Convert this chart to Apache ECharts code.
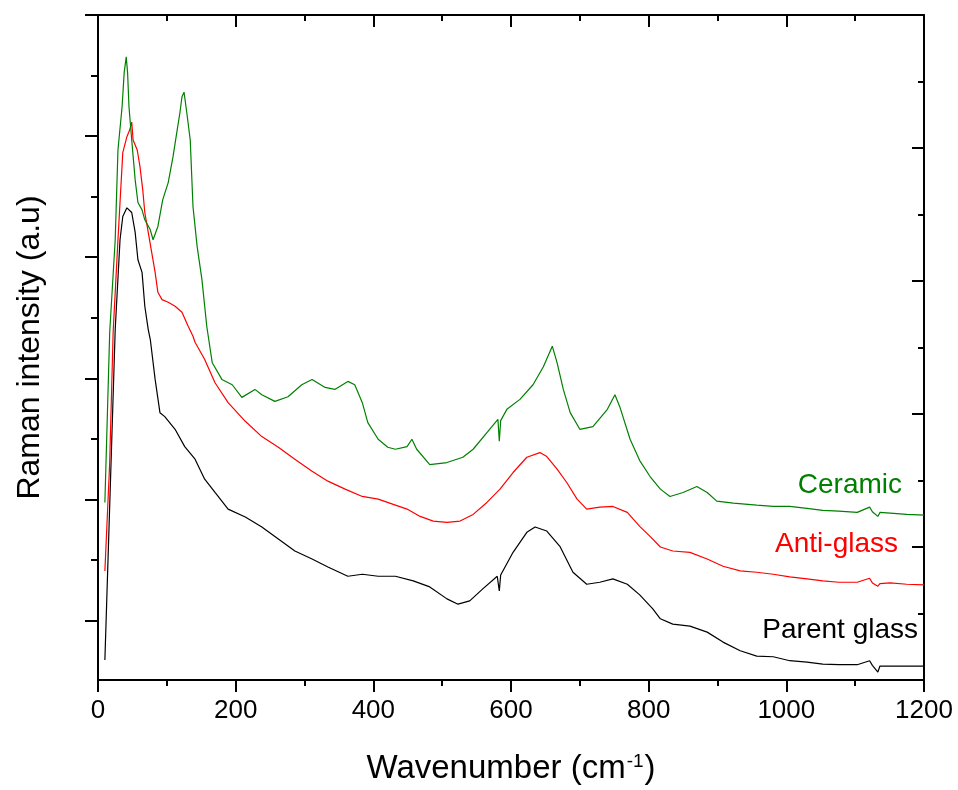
<!DOCTYPE html>
<html>
<head>
<meta charset="utf-8">
<title>Raman spectra</title>
<script src="https://cdn.jsdelivr.net/npm/echarts@6/dist/echarts.min.js"></script>
<style>
  html, body { margin: 0; padding: 0; background: #fff; }
  #chart { width: 958px; height: 790px; }
</style>
</head>
<body>
<div id="chart"></div>
<script>
// wavenumber (cm-1), intensity (a.u.)
const parentGlass = [
  [10, 0.30], [25, 5.27], [32, 6.62], [36, 6.97], [42, 7.10], [49, 7.03], [54, 6.73],
  [58, 6.32], [64, 6.13], [68, 5.62], [73, 5.27], [76, 5.12], [83, 4.52], [90, 4.02],
  [97, 3.96], [112, 3.77], [126, 3.51], [141, 3.32], [155, 3.02], [170, 2.82], [189, 2.57],
  [214, 2.45], [238, 2.30], [262, 2.12], [286, 1.94], [311, 1.82], [334, 1.70], [363, 1.56],
  [384, 1.59], [407, 1.56], [432, 1.56], [458, 1.49], [482, 1.40], [507, 1.22], [523, 1.14],
  [540, 1.19], [559, 1.37], [580, 1.56], [583, 1.34], [585, 1.58], [603, 1.92], [623, 2.22],
  [635, 2.30], [652, 2.24], [671, 2.01], [690, 1.62], [710, 1.44], [729, 1.47], [748, 1.52],
  [769, 1.44], [787, 1.28], [806, 1.07], [817, 0.92], [835, 0.84], [860, 0.81], [885, 0.72],
  [908, 0.57], [933, 0.44], [957, 0.36], [981, 0.35], [1005, 0.29], [1030, 0.27], [1053, 0.24],
  [1076, 0.23], [1103, 0.23], [1121, 0.29], [1125, 0.22], [1133, 0.12], [1136, 0.21],
  [1151, 0.21], [1175, 0.21], [1200, 0.21]
];

const antiGlass = [
  [10, 1.64], [17, 3.27], [22, 5.23], [29, 6.62], [36, 7.93], [42, 8.17], [46, 8.27],
  [49, 8.39], [51, 8.12], [57, 7.97], [61, 7.72], [65, 7.37], [68, 7.03], [73, 6.73],
  [78, 6.43], [83, 6.13], [87, 5.83], [93, 5.72], [102, 5.68], [112, 5.62], [122, 5.53],
  [131, 5.32], [138, 5.17], [141, 5.08], [155, 4.82], [170, 4.47], [189, 4.17], [214, 3.89],
  [238, 3.66], [262, 3.50], [286, 3.32], [311, 3.14], [334, 2.99], [359, 2.87], [384, 2.76],
  [407, 2.72], [429, 2.64], [449, 2.57], [468, 2.46], [487, 2.39], [507, 2.37], [526, 2.39],
  [545, 2.49], [565, 2.67], [584, 2.87], [603, 3.12], [623, 3.35], [642, 3.42], [652, 3.36],
  [667, 3.17], [681, 2.97], [696, 2.72], [710, 2.57], [729, 2.60], [748, 2.61], [769, 2.52],
  [787, 2.31], [802, 2.16], [817, 2.00], [835, 1.94], [860, 1.92], [885, 1.82], [908, 1.71],
  [933, 1.64], [957, 1.62], [981, 1.59], [1005, 1.55], [1030, 1.52], [1053, 1.49], [1076, 1.47],
  [1103, 1.47], [1121, 1.53], [1125, 1.46], [1133, 1.41], [1136, 1.45], [1151, 1.46],
  [1175, 1.44], [1200, 1.43]
];

const ceramic = [
  [10, 2.67], [17, 5.23], [25, 6.62], [29, 7.97], [35, 8.62], [38, 9.13], [41, 9.37],
  [43, 9.13], [45, 8.62], [49, 8.12], [54, 7.52], [58, 7.18], [64, 7.07], [68, 6.92],
  [76, 6.77], [80, 6.62], [87, 6.82], [94, 7.22], [102, 7.48], [109, 7.87], [115, 8.27],
  [119, 8.53], [122, 8.77], [125, 8.84], [129, 8.53], [134, 8.12], [138, 7.12], [144, 6.52],
  [151, 6.02], [158, 5.32], [166, 4.77], [180, 4.52], [195, 4.44], [209, 4.25], [228, 4.37],
  [238, 4.29], [257, 4.19], [276, 4.26], [296, 4.44], [311, 4.52], [330, 4.40], [344, 4.37],
  [363, 4.49], [373, 4.44], [384, 4.17], [392, 3.87], [407, 3.62], [421, 3.50], [432, 3.47],
  [449, 3.51], [456, 3.62], [463, 3.47], [482, 3.24], [507, 3.27], [530, 3.35], [545, 3.47],
  [565, 3.72], [581, 3.92], [583, 3.59], [585, 3.90], [594, 4.07], [613, 4.22], [632, 4.44],
  [647, 4.71], [660, 5.02], [667, 4.77], [676, 4.37], [686, 4.02], [700, 3.77], [719, 3.81],
  [740, 4.07], [751, 4.29], [758, 4.11], [773, 3.62], [787, 3.30], [802, 3.06], [817, 2.87],
  [831, 2.76], [850, 2.82], [870, 2.91], [885, 2.82], [899, 2.69], [923, 2.66], [957, 2.63],
  [981, 2.61], [1005, 2.61], [1030, 2.58], [1053, 2.55], [1076, 2.54], [1103, 2.52],
  [1121, 2.60], [1125, 2.53], [1133, 2.46], [1136, 2.52], [1151, 2.51], [1175, 2.49],
  [1200, 2.48]
];

const seriesNames = ['Parent glass', 'Anti-glass', 'Ceramic'];
const seriesColors = ['#000000', '#ff0000', '#008000'];
const xTicks = [0, 1200, 200];  // min, max, interval

const FONT = "'Liberation Sans', Arial, sans-serif";
const chart = echarts.init(document.getElementById('chart'), null, { renderer: 'canvas' });

const tickStyle = { color: '#000', width: 2 };

function line(name, data, color) {
  return {
    name: name,
    type: 'line',
    data: data,
    xAxisIndex: 0,
    yAxisIndex: 0,
    showSymbol: false,
    symbol: 'none',
    lineStyle: { color: color, width: 1.2 },
    itemStyle: { color: color },
    emphasis: { disabled: true },
    z: 3
  };
}

const option = {
  animation: false,
  backgroundColor: '#fff',
  grid: [
    { left: 98, right: 34, top: 15, bottom: 109 },
    // only carries the left-hand tick marks (offset by half a step)
    { left: 98, right: 34, top: 15, bottom: 169.5 }
  ],
  xAxis: [
    {
      type: 'value', gridIndex: 0, position: 'bottom',
      min: xTicks[0], max: xTicks[1], interval: xTicks[2],
      axisLine: { show: true, onZero: false, lineStyle: tickStyle },
      axisTick: { show: true, inside: false, length: 12, lineStyle: tickStyle },
      minorTick: { show: true, splitNumber: 2, length: 6, lineStyle: tickStyle },
      splitLine: { show: false },
      axisLabel: {
        color: '#000', fontSize: 26, fontFamily: FONT, margin: 18,
        formatter: function (v) { return String(v); }
      },
      name: 'Wavenumber (cm{sup|-1})',
      nameLocation: 'middle',
      nameGap: 72,
      nameTextStyle: {
        color: '#000', fontSize: 33, fontFamily: FONT,
        rich: { sup: { fontSize: 19, fontFamily: FONT, color: '#000', verticalAlign: 'top', padding: [0, 1, 14, 1] } }
      }
    },
    {
      type: 'value', gridIndex: 0, position: 'top',
      min: xTicks[0], max: xTicks[1], interval: xTicks[2],
      axisLine: { show: true, onZero: false, lineStyle: tickStyle },
      axisTick: { show: true, inside: true, length: 12, lineStyle: tickStyle },
      minorTick: { show: true, splitNumber: 2, length: 6, lineStyle: tickStyle },
      splitLine: { show: false },
      axisLabel: { show: false }
    },
    { type: 'value', gridIndex: 1, min: 0, max: 1200, show: false }
  ],
  yAxis: [
    {
      type: 'value', gridIndex: 0, position: 'left',
      min: 0, max: 10,
      axisLine: { show: true, onZero: false, lineStyle: tickStyle },
      axisTick: { show: false },
      splitLine: { show: false },
      axisLabel: { show: false },
      name: 'Raman intensity (a.u)',
      nameLocation: 'middle',
      nameGap: 52,
      nameTextStyle: { color: '#000', fontSize: 32, fontFamily: FONT }
    },
    {
      type: 'value', gridIndex: 0, position: 'right',
      min: 0, max: 10, interval: 2,
      axisLine: { show: true, onZero: false, lineStyle: tickStyle },
      axisTick: { show: true, inside: true, length: 12, lineStyle: tickStyle },
      minorTick: { show: true, splitNumber: 2, length: 6, lineStyle: tickStyle },
      splitLine: { show: false },
      axisLabel: { show: false }
    },
    {
      type: 'value', gridIndex: 1, position: 'left',
      min: 0, max: 10, interval: 2,
      axisLine: { show: false },
      axisTick: { show: true, inside: false, length: 13, lineStyle: tickStyle },
      minorTick: { show: true, splitNumber: 2, length: 7, lineStyle: tickStyle },
      splitLine: { show: false },
      axisLabel: { show: false }
    }
  ],
  graphic: [
    { type: 'text', right: 56, top: 471, style: { text: seriesNames[2], fill: seriesColors[2], font: '28px ' + FONT } },
    { type: 'text', right: 60, top: 530, style: { text: seriesNames[1], fill: seriesColors[1], font: '28px ' + FONT } },
    { type: 'text', right: 40, top: 616, style: { text: seriesNames[0], fill: seriesColors[0], font: '28px ' + FONT } }
  ],
  series: [
    line(seriesNames[0], parentGlass, seriesColors[0]),
    line(seriesNames[1], antiGlass, seriesColors[1]),
    line(seriesNames[2], ceramic, seriesColors[2])
  ]
};

chart.setOption(option);
</script>
</body>
</html>
